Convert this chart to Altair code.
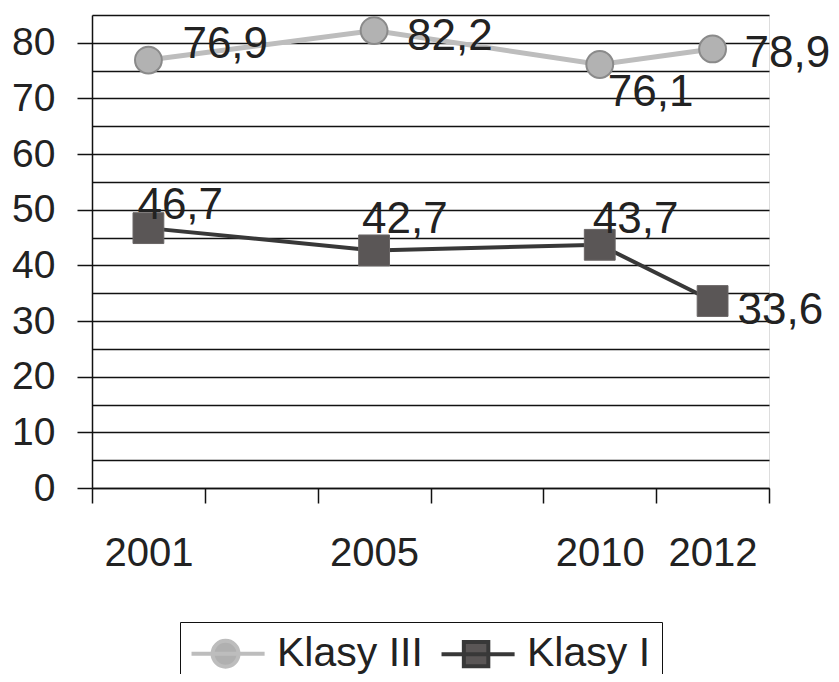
import altair as alt
import pandas as pd

# ---- data -------------------------------------------------------------
years = ["2001", "2005", "2010", "2012"]
klasy_iii = [76.9, 82.2, 76.1, 78.9]
klasy_i = [46.7, 42.7, 43.7, 33.6]
series_names = ["Klasy III", "Klasy I"]
# category slots on the x axis (two unlabeled slots, as in the original)
x_slots = ["2001", "", "2005", " ", "2010", "2012"]

rows = []
for y, v in zip(years, klasy_iii):
    rows.append({"year": y, "value": v, "series": "Klasy III"})
for y, v in zip(years, klasy_i):
    rows.append({"year": y, "value": v, "series": "Klasy I"})
df = pd.DataFrame(rows)

FONT = "Liberation Sans"

# label placement (pixel offsets relative to the point)
label_offsets = {
    ("Klasy III", "2001"): (34, -15),
    ("Klasy III", "2005"): (33, 6),
    ("Klasy III", "2010"): (8, 28),
    ("Klasy III", "2012"): (32, 5),
    ("Klasy I", "2001"): (-11, -22),
    ("Klasy I", "2005"): (-12, -30),
    ("Klasy I", "2010"): (-7, -25),
    ("Klasy I", "2012"): (25, 10),
}

x_enc = alt.X(
    "year:N",
    scale=alt.Scale(type="band", domain=x_slots, paddingInner=0, paddingOuter=0),
    axis=alt.Axis(
        title=None, labelAngle=0, tickBand="extent", tickSize=15, tickWidth=1.5,
        tickColor="#111", domainColor="#111", domainWidth=1.5, grid=False,
        labelFont=FONT, labelFontSize=40, labelColor="#222", labelPadding=30,
        labelOverlap=False,
    ),
)
y_enc = alt.Y(
    "value:Q",
    scale=alt.Scale(domain=[0, 85], nice=False),
    axis=alt.Axis(
        title=None, values=list(range(0, 90, 5)),
        labelExpr="datum.value % 10 === 0 ? datum.label : ''",
        tickOpacity={"condition": {"test": "datum.value % 10 === 0", "value": 1}, "value": 0},
        tickSize=15, tickWidth=1.5, tickColor="#111",
        domainColor="#111", domainWidth=1.5,
        grid=True, gridColor="#111", gridWidth=1.5,
        labelFont=FONT, labelFontSize=39, labelColor="#222", labelPadding=22,
        labelOverlap=False,
    ),
)

base = alt.Chart(df)

line3 = base.transform_filter("datum.series === 'Klasy III'").mark_line(
    color="#bdbdbd", strokeWidth=5
).encode(x=x_enc, y=y_enc)
pts3 = base.transform_filter("datum.series === 'Klasy III'").mark_point(
    shape="circle", filled=True, fill="#b2b2b2", stroke="#8a8a8a", strokeWidth=2,
    size=720, opacity=1
).encode(x=x_enc, y=y_enc)
line1 = base.transform_filter("datum.series === 'Klasy I'").mark_line(
    color="#383838", strokeWidth=4
).encode(x=x_enc, y=y_enc)
pts1 = base.transform_filter("datum.series === 'Klasy I'").mark_point(
    shape="square", filled=True, fill="#5a5656", stroke="#6a6666", strokeWidth=1,
    size=950, opacity=1
).encode(x=x_enc, y=y_enc)

label_layers = []
for (s, yr), (dx, dy) in label_offsets.items():
    label_layers.append(
        base.transform_filter(f"datum.series === '{s}' && datum.year === '{yr}'")
        .transform_calculate(label="replace(format(datum.value, '.1f'), '.', ',')")
        .mark_text(align="left", baseline="middle", dx=dx, dy=dy,
                   font=FONT, fontSize=44, color="#222")
        .encode(x=x_enc, y=y_enc, text="label:N")
    )

# legend symbols: a line stub with the marker on it
circle_path = ("M-1.11,0L2.95,0M1.5,0A0.72,0.72,0,1,1,0.06,0"
               "A0.72,0.72,0,1,1,1.5,0Z")
square_path = "M-1.11,0L2.95,0M0.13,-0.68L1.49,-0.68L1.49,0.68L0.13,0.68Z"

leg = alt.Legend(
    title=None, orient="none", legendX=88, legendY=607, direction="horizontal",
    strokeColor="#111", padding=11, symbolSize=1296,
    symbolStrokeWidth=4, labelFont=FONT, labelFontSize=41, labelColor="#222",
    labelOffset=45, columnPadding=10, labelLimit=400,
)
legend_layer = base.transform_filter("false").mark_point(
    filled=True, opacity=1, strokeWidth=4
).encode(
    shape=alt.Shape("series:N", scale=alt.Scale(domain=series_names, range=[circle_path, square_path]), legend=leg),
    fill=alt.Fill("series:N", scale=alt.Scale(domain=series_names, range=["#b0b0b0", "#5a5656"]), legend=leg),
    stroke=alt.Stroke("series:N", scale=alt.Scale(domain=series_names, range=["#bdbdbd", "#383838"]), legend=leg),
)

chart = alt.layer(line3, pts3, line1, pts1, *label_layers, legend_layer).properties(
    width=677, height=473,
    autosize=alt.AutoSizeParams(type="none"),
    padding={"left": 84, "top": 7, "right": 62, "bottom": 186},
).configure_view(stroke="#111", strokeWidth=1.5).configure(background="white")

chart.save("out.html", embed_options={"renderer": "svg", "actions": False})
